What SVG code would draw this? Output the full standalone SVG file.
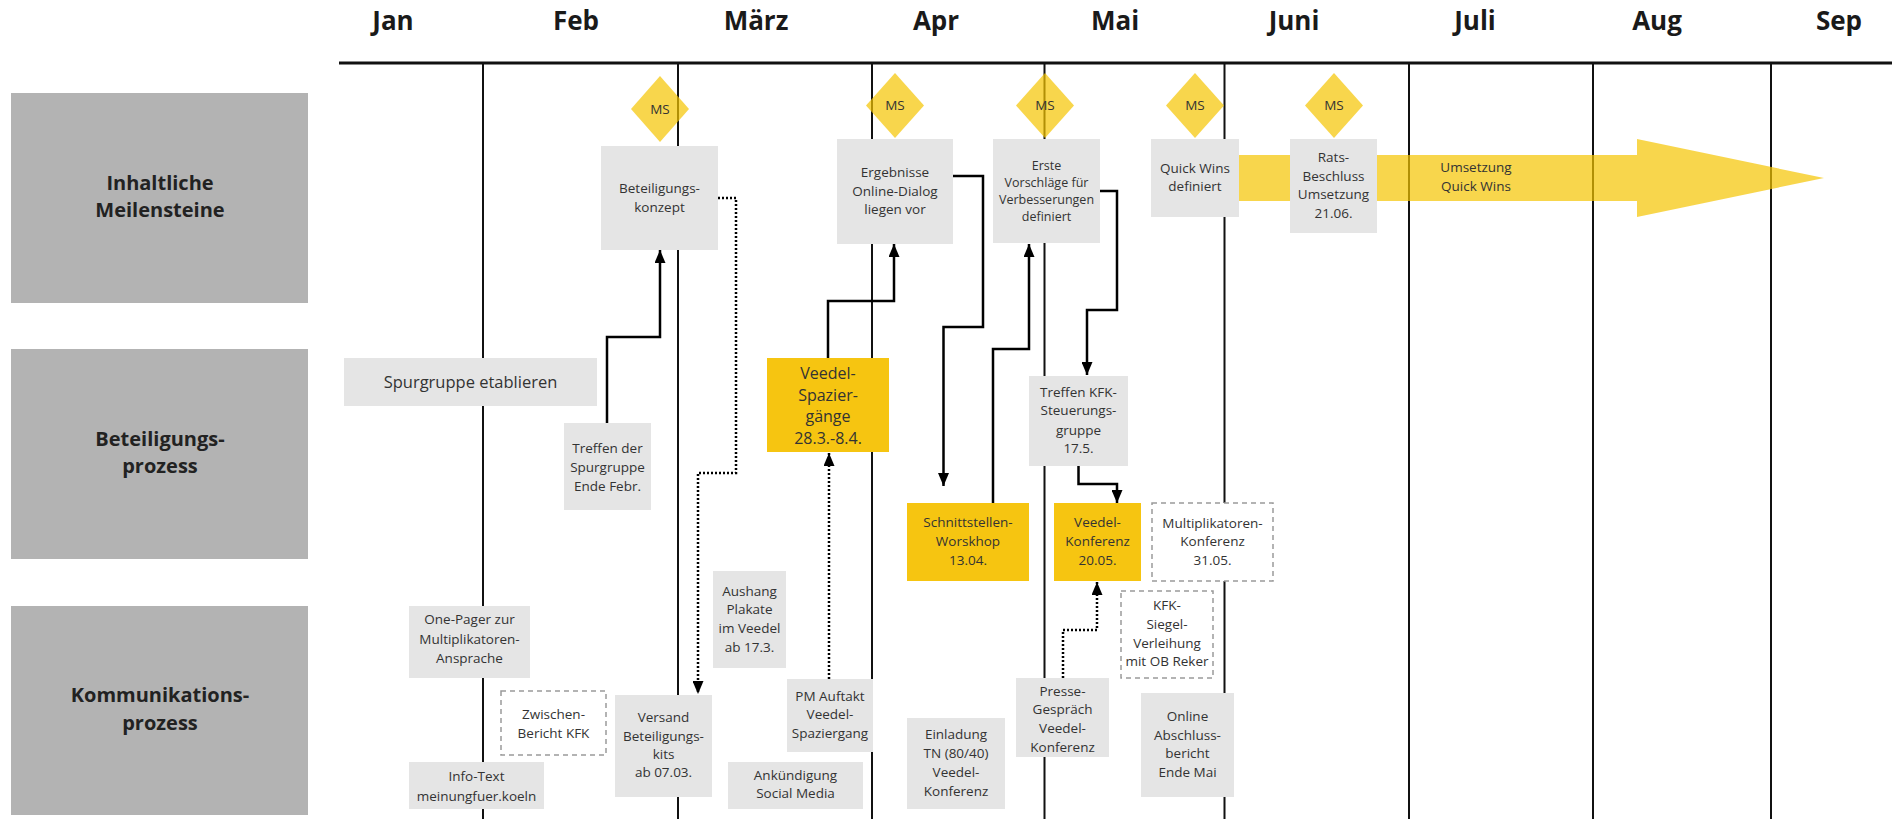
<svg xmlns="http://www.w3.org/2000/svg" width="1892" height="819" viewBox="0 0 1892 819">
<style>
text{font-family:"Open Sans","Liberation Sans",sans-serif;fill:#333;text-anchor:middle}
.mon{font-size:26px;font-weight:700;fill:#1a1a1a}
.cat{font-size:20px;font-weight:700;fill:#222}
.t{font-size:13.5px}
.ts{font-size:12.5px}
.tl{font-size:16px}
.catbox{fill:#b3b3b3}
.box{fill:#e5e5e5}
.ybox{fill:#f6c511}
.dbox{fill:#fff;stroke:#9a9a9a;stroke-width:1.5;stroke-dasharray:5 4}
.ms{fill:#f5c400;fill-opacity:0.7}
.grid{stroke:#111;stroke-width:2;fill:none}
.con{stroke:#000;stroke-width:2.5;fill:none;marker-end:url(#ah)}
.dot{stroke:#000;stroke-width:2.5;fill:none;stroke-dasharray:2 2;marker-end:url(#ah)}
</style>
<defs>
<marker id="ah" markerUnits="userSpaceOnUse" viewBox="0 0 13 11" refX="13" refY="5.5" markerWidth="13" markerHeight="11" orient="auto">
<path d="M0,0 L13,5.5 L0,11 z" fill="#000"/>
</marker>
</defs>
<rect width="1892" height="819" fill="#fff"/>

<g id="header">
<text class="mon" x="393" y="30">Jan</text>
<text class="mon" x="576" y="30">Feb</text>
<text class="mon" x="756" y="30">März</text>
<text class="mon" x="936" y="30">Apr</text>
<text class="mon" x="1115" y="30">Mai</text>
<text class="mon" x="1294" y="30">Juni</text>
<text class="mon" x="1475" y="30">Juli</text>
<text class="mon" x="1657" y="30">Aug</text>
<text class="mon" x="1839" y="30">Sep</text>
<line x1="339" y1="63" x2="1892" y2="63" stroke="#111" stroke-width="3"/>
</g>

<g id="grid">
<line class="grid" x1="483" y1="63" x2="483" y2="819"/>
<line class="grid" x1="678" y1="63" x2="678" y2="819"/>
<line class="grid" x1="872" y1="63" x2="872" y2="819"/>
<line class="grid" x1="1044.5" y1="63" x2="1044.5" y2="819"/>
<line class="grid" x1="1224.5" y1="63" x2="1224.5" y2="819"/>
<line class="grid" x1="1409" y1="63" x2="1409" y2="819"/>
<line class="grid" x1="1593" y1="63" x2="1593" y2="819"/>
<line class="grid" x1="1771" y1="63" x2="1771" y2="819"/>
</g>

<g id="cat-inhalt"><rect class="catbox" x="11" y="93" width="297" height="210"/>
<text class="cat"><tspan x="160" y="190">Inhaltliche</tspan><tspan x="160" y="217">Meilensteine</tspan></text></g>
<g id="cat-beteiligung"><rect class="catbox" x="11" y="349" width="297" height="210"/>
<text class="cat"><tspan x="160" y="446">Beteiligungs-</tspan><tspan x="160" y="473">prozess</tspan></text></g>
<g id="cat-kommunikation"><rect class="catbox" x="11" y="606" width="297" height="209"/>
<text class="cat"><tspan x="160" y="702">Kommunikations-</tspan><tspan x="160" y="730">prozess</tspan></text></g>

<g id="umsetzung-arrow">
<path class="ms" d="M1236,155 H1637 V139 L1824,178 L1637,217 V201 H1236 Z"/>
<text class="t"><tspan x="1476" y="172">Umsetzung</tspan><tspan x="1476" y="191">Quick Wins</tspan></text>
</g>

<g id="n-beteiligungskonzept"><rect class="box" x="601" y="146" width="117" height="104"/>
<text class="t"><tspan x="659.5" y="193">Beteiligungs-</tspan><tspan x="659.5" y="212">konzept</tspan></text></g>
<g id="n-ergebnisse"><rect class="box" x="837" y="139" width="116" height="105"/>
<text class="t"><tspan x="895" y="177">Ergebnisse</tspan><tspan x="895" y="196">Online-Dialog</tspan><tspan x="895" y="214">liegen vor</tspan></text></g>
<g id="n-erste"><rect class="box" x="993" y="139" width="107" height="104"/>
<text class="ts"><tspan x="1046.5" y="170">Erste</tspan><tspan x="1046.5" y="187">Vorschläge für</tspan><tspan x="1046.5" y="204">Verbesserungen</tspan><tspan x="1046.5" y="221">definiert</tspan></text></g>
<g id="n-quickwins"><rect class="box" x="1151" y="139" width="88" height="78"/>
<text class="t"><tspan x="1195" y="173">Quick Wins</tspan><tspan x="1195" y="191">definiert</tspan></text></g>
<g id="n-rats"><rect class="box" x="1290" y="139" width="87" height="94"/>
<text class="t"><tspan x="1333.5" y="162">Rats-</tspan><tspan x="1333.5" y="181">Beschluss</tspan><tspan x="1333.5" y="199">Umsetzung</tspan><tspan x="1333.5" y="218">21.06.</tspan></text></g>

<g id="ms-1"><path class="ms" d="M660,76 L689,109 L660,142 L631,109 Z"/><text class="t" x="660" y="114">MS</text></g>
<g id="ms-2"><path class="ms" d="M895,73 L924,105.5 L895,138 L866,105.5 Z"/><text class="t" x="895" y="110">MS</text></g>
<g id="ms-3"><path class="ms" d="M1045,73 L1074,105.5 L1045,138 L1016,105.5 Z"/><text class="t" x="1045" y="110">MS</text></g>
<g id="ms-4"><path class="ms" d="M1195,73 L1224,105.5 L1195,138 L1166,105.5 Z"/><text class="t" x="1195" y="110">MS</text></g>
<g id="ms-5"><path class="ms" d="M1334,73 L1363,105.5 L1334,138 L1305,105.5 Z"/><text class="t" x="1334" y="110">MS</text></g>

<g id="n-spurgruppe"><rect class="box" x="344" y="358" width="253" height="48"/>
<text style="font-size:16.5px" x="470.5" y="388">Spurgruppe etablieren</text></g>
<g id="n-treffen-spurgruppe"><rect class="box" x="564" y="423" width="87" height="87"/>
<text class="t"><tspan x="607.5" y="453">Treffen der</tspan><tspan x="607.5" y="472">Spurgruppe</tspan><tspan x="607.5" y="491">Ende Febr.</tspan></text></g>
<g id="n-veedel-spaziergaenge"><rect class="ybox" x="767" y="358" width="122" height="94"/>
<text class="tl"><tspan x="828" y="379">Veedel-</tspan><tspan x="828" y="401">Spazier-</tspan><tspan x="828" y="422">gänge</tspan><tspan x="828" y="444">28.3.-8.4.</tspan></text></g>
<g id="n-kfk-steuerungsgruppe"><rect class="box" x="1029" y="376" width="99" height="90"/>
<text class="t"><tspan x="1078.5" y="397">Treffen KFK-</tspan><tspan x="1078.5" y="415">Steuerungs-</tspan><tspan x="1078.5" y="435">gruppe</tspan><tspan x="1078.5" y="453">17.5.</tspan></text></g>
<g id="n-schnittstellen"><rect class="ybox" x="907" y="503" width="122" height="78"/>
<text class="t"><tspan x="968" y="527">Schnittstellen-</tspan><tspan x="968" y="546">Worskhop</tspan><tspan x="968" y="565">13.04.</tspan></text></g>
<g id="n-veedel-konferenz"><rect class="ybox" x="1054" y="503" width="87" height="78"/>
<text class="t"><tspan x="1097.5" y="527">Veedel-</tspan><tspan x="1097.5" y="546">Konferenz</tspan><tspan x="1097.5" y="565">20.05.</tspan></text></g>
<g id="n-multiplikatoren-konferenz"><rect class="dbox" x="1152" y="503" width="121" height="78"/>
<text class="t"><tspan x="1212.5" y="528">Multiplikatoren-</tspan><tspan x="1212.5" y="546">Konferenz</tspan><tspan x="1212.5" y="565">31.05.</tspan></text></g>

<g id="n-siegel"><rect class="dbox" x="1121" y="591" width="92" height="87"/>
<text class="t"><tspan x="1167" y="610">KFK-</tspan><tspan x="1167" y="629">Siegel-</tspan><tspan x="1167" y="648">Verleihung</tspan><tspan x="1167" y="666">mit OB Reker</tspan></text></g>
<g id="n-online-bericht"><rect class="box" x="1141" y="693" width="93" height="104"/>
<text class="t"><tspan x="1187.5" y="721">Online</tspan><tspan x="1187.5" y="740">Abschluss-</tspan><tspan x="1187.5" y="758">bericht</tspan><tspan x="1187.5" y="777">Ende Mai</tspan></text></g>
<g id="n-onepager"><rect class="box" x="409" y="606" width="121" height="72"/>
<text class="t"><tspan x="469.5" y="624">One-Pager zur</tspan><tspan x="469.5" y="644">Multiplikatoren-</tspan><tspan x="469.5" y="663">Ansprache</tspan></text></g>
<g id="n-zwischenbericht"><rect class="dbox" x="501" y="691" width="105" height="64"/>
<text class="t"><tspan x="553.5" y="719">Zwischen-</tspan><tspan x="553.5" y="738">Bericht KFK</tspan></text></g>
<g id="n-infotext"><rect class="box" x="409" y="762" width="135" height="47"/>
<text class="t"><tspan x="476.5" y="781">Info-Text</tspan><tspan x="476.5" y="801">meinungfuer.koeln</tspan></text></g>
<g id="n-versand"><rect class="box" x="615" y="695" width="97" height="102"/>
<text class="t"><tspan x="663.5" y="722">Versand</tspan><tspan x="663.5" y="741">Beteiligungs-</tspan><tspan x="663.5" y="759">kits</tspan><tspan x="663.5" y="777">ab 07.03.</tspan></text></g>
<g id="n-aushang"><rect class="box" x="713" y="571" width="73" height="97"/>
<text class="t"><tspan x="749.5" y="596">Aushang</tspan><tspan x="749.5" y="614">Plakate</tspan><tspan x="749.5" y="633">im Veedel</tspan><tspan x="749.5" y="652">ab 17.3.</tspan></text></g>
<g id="n-pm-auftakt"><rect class="box" x="787" y="679" width="86" height="73"/>
<text class="t"><tspan x="830" y="701">PM Auftakt</tspan><tspan x="830" y="719">Veedel-</tspan><tspan x="830" y="738">Spaziergang</tspan></text></g>
<g id="n-ankuendigung"><rect class="box" x="728" y="762" width="135" height="47"/>
<text class="t"><tspan x="795.5" y="780">Ankündigung</tspan><tspan x="795.5" y="798">Social Media</tspan></text></g>
<g id="n-einladung"><rect class="box" x="907" y="718" width="98" height="91"/>
<text class="t"><tspan x="956" y="739">Einladung</tspan><tspan x="956" y="758">TN (80/40)</tspan><tspan x="956" y="777">Veedel-</tspan><tspan x="956" y="796">Konferenz</tspan></text></g>
<g id="n-presse"><rect class="box" x="1016" y="678" width="93" height="79"/>
<text class="t"><tspan x="1062.5" y="696">Presse-</tspan><tspan x="1062.5" y="714">Gespräch</tspan><tspan x="1062.5" y="733">Veedel-</tspan><tspan x="1062.5" y="752">Konferenz</tspan></text></g>

<g id="connectors">
<path class="con" d="M607,423 V337 H660 V250"/>
<path class="dot" d="M718,198 H736 V473 H698 V694"/>
<path class="con" d="M828,358 V301 H894 V244"/>
<path class="con" d="M953,176 H983 V327 H943.5 V486"/>
<path class="con" d="M993,503 V349 H1029 V244"/>
<path class="con" d="M1100,191 H1117 V310 H1087 V375"/>
<path class="con" d="M1078.5,466 V484 H1117 V503"/>
<path class="dot" d="M829,679 V453"/>
<path class="dot" d="M1063,678 V630 H1097 V582"/>
</g>
</svg>
